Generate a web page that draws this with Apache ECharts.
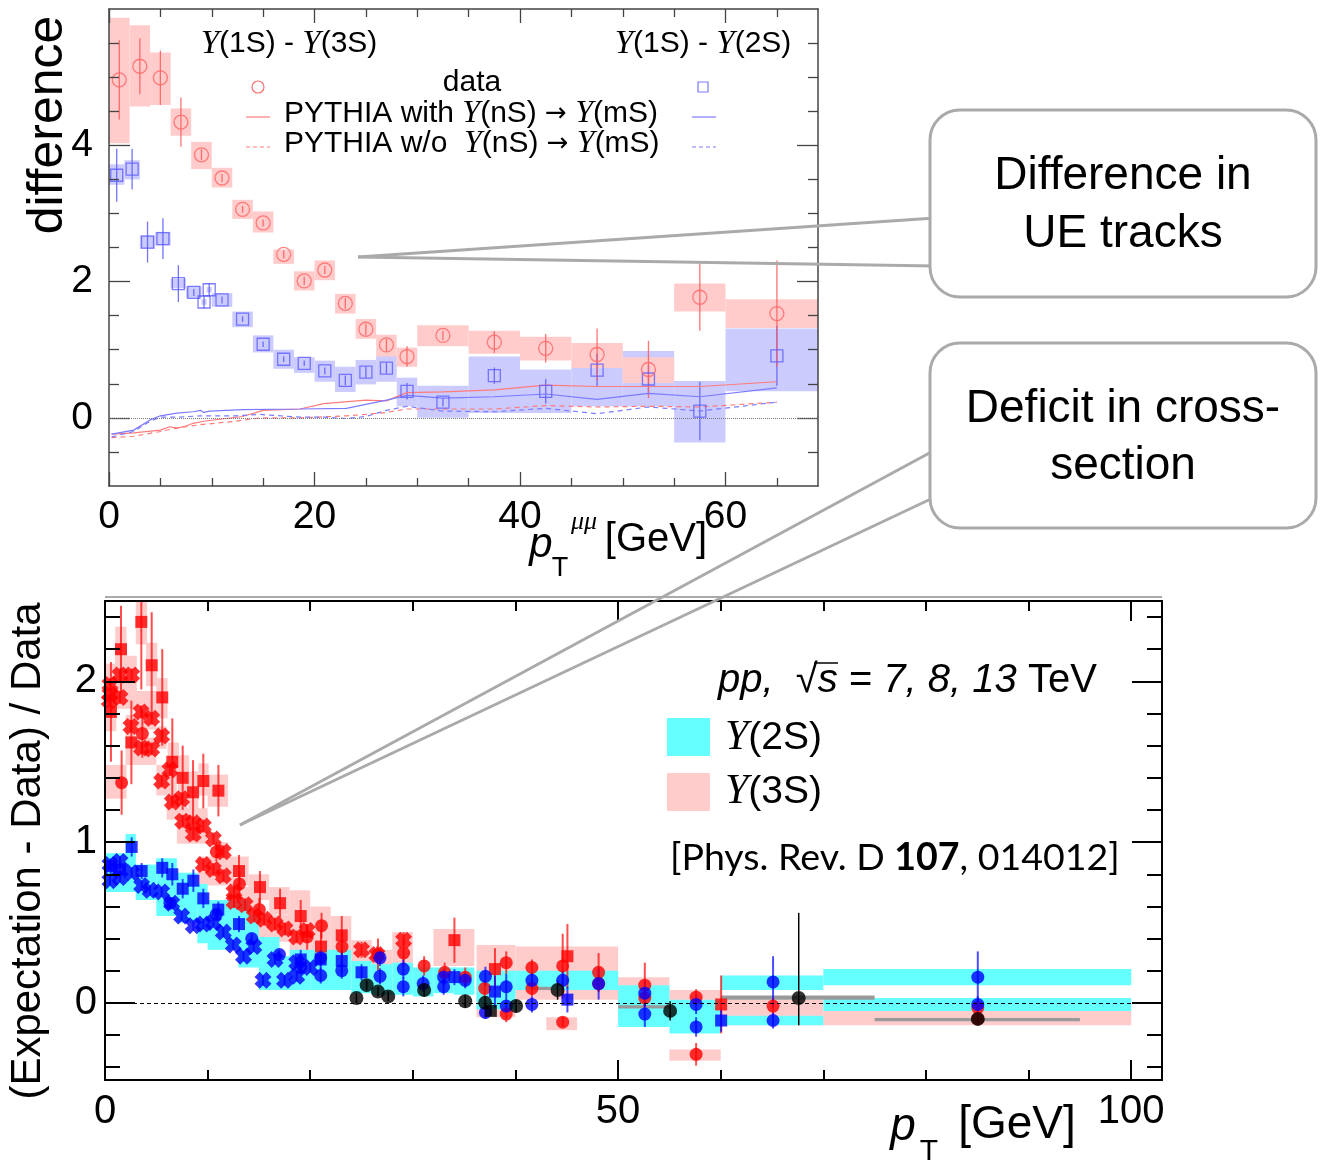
<!DOCTYPE html>
<html><head><meta charset="utf-8">
<script src="https://cdn.jsdelivr.net/npm/echarts@6/dist/echarts.min.js"></script>
<style>html,body{margin:0;padding:0;background:#fff}#c{width:1327px;height:1163px}</style>
</head><body><div id="c"></div><script>
// ---------------- TOP PANEL DATA ----------------
// rows: [pT, difference, stat, binLo, binHi, sysLo, sysHi]
const top3S = [
 [1,4.96,0.58,0,2,4.03,5.87],[3,5.16,0.41,2,4,4.57,5.76],[5,4.99,0.40,4,6,4.59,5.36],
 [7,4.34,0.36,6,8,4.14,4.54],[9,3.86,0.08,8,10,3.65,4.05],[11,3.52,0.06,10,12,3.38,3.67],
 [13,3.06,0.05,12,14,2.92,3.20],[15,2.86,0.05,14,16,2.72,3.03],[17,2.40,0.06,16,18,2.26,2.47],
 [19,2.01,0.06,18,20,1.87,2.15],[21,2.17,0.06,20,22,2.02,2.31],[23,1.68,0.08,22,24,1.53,1.82],
 [25,1.30,0.08,24,26,1.16,1.45],[27,1.07,0.09,26,28,0.90,1.22],[29,0.90,0.15,28,30,0.75,1.03],
 [32.5,1.21,0.07,30,35,1.05,1.36],[37.5,1.11,0.16,35,40,0.94,1.28],[42.5,1.02,0.21,40,45,0.84,1.19],
 [47.5,0.93,0.38,45,50,0.73,1.10],[52.5,0.71,0.42,50,55,0.51,0.89],[57.5,1.77,0.49,55,60,1.56,1.97],
 [65,1.53,0.78,60,70,1.32,1.74]
];
const top2S = [
 [0.75,3.56,0.39,0,1.5,3.42,3.72],[2.25,3.65,0.30,1.5,3,3.50,3.78],[3.75,2.58,0.30,3,4.5,2.48,2.68],
 [5.25,2.63,0.30,4.5,6,2.53,2.73],[6.75,1.97,0.27,6,7.5,1.90,2.04],[8.25,1.84,0.05,7.5,9,1.76,1.93],
 [9.25,1.70,0.09,9,9.5,1.66,1.74],[9.75,1.88,0.10,9.5,10,1.84,1.92],[11,1.73,0.05,10,12,1.63,1.83],
 [13,1.45,0.04,12,14,1.33,1.56],[15,1.08,0.04,14,16,0.96,1.21],[17,0.86,0.04,16,18,0.72,1.00],
 [19,0.80,0.04,18,20,0.66,0.89],[21,0.69,0.05,20,22,0.53,0.84],[23,0.55,0.07,22,24,0.38,0.75],
 [25,0.67,0.08,24,26,0.49,0.85],[27,0.73,0.08,26,28,0.53,0.91],[29,0.39,0.12,28,30,0.17,0.59],
 [32.5,0.23,0.06,30,35,0.00,0.47],[37.5,0.62,0.12,35,40,0.07,0.90],[42.5,0.39,0.18,40,45,0.07,0.71],
 [47.5,0.70,0.24,45,50,0.17,0.75],[52.5,0.57,0.20,50,55,0.17,0.98],[57.5,0.10,0.43,55,60,-0.36,0.54],
 [65,0.91,0.44,60,70,0.39,1.31]
];
const pyWith2S = [[0.25,-0.24],[2.4,-0.18],[4,-0.03],[5,0.03],[6.6,0.07],[8.2,0.09],[8.9,0.11],[9.2,0.08],[9.8,0.10],[13,0.12],[18.6,0.13],[23.1,0.14],[27,0.26],[29,0.33],[32.5,0.29],[37.5,0.31],[42.5,0.35],[47.5,0.27],[52.5,0.36],[57.5,0.31],[65,0.44]];
const pyWith3S = [[0.25,-0.24],[2.4,-0.22],[5,-0.18],[5.9,-0.13],[6.6,-0.15],[7.5,-0.12],[8.2,-0.08],[9.2,-0.05],[13,0.02],[15,0.11],[18.6,0.13],[20.9,0.21],[25,0.26],[27,0.25],[29,0.37],[32.5,0.38],[37.5,0.41],[42.5,0.48],[47.5,0.46],[52.5,0.46],[57.5,0.46],[65,0.53]];
const pyWo2S = [[0.25,-0.28],[2.4,-0.2],[4,-0.05],[5,0.01],[6.6,0.01],[8.9,0.03],[12.3,0.03],[14.7,0.05],[18.6,0.01],[20.9,0.01],[23.1,-0.01],[25,0.02],[27,0.11],[29,0.17],[32.5,0.10],[37.5,0.09],[42.5,0.14],[47.5,0.06],[52.5,0.16],[57.5,0.10],[65,0.23]];
const pyWo3S = [[0.25,-0.29],[2.4,-0.27],[5,-0.2],[6.6,-0.15],[8.9,-0.1],[12.3,-0.05],[14.7,0],[18.6,0],[23.1,0.03],[25,0.05],[27,0.08],[29,0.13],[32.5,0.13],[37.5,0.13],[42.5,0.18],[47.5,0.16],[52.5,0.17],[57.5,0.16],[65,0.23]];
const topXMajor=[0,20,40,60], topXMinor=[5,10,15,25,30,35,45,50,55,65];
const topYMajor=[0,2,4], topYMinor=[-0.5,0.5,1,1.5,2.5,3,3.5,4.5,5,5.5];
const topXLabels=[0,20,40,60], topYLabels=[0,2,4];

// ---------------- BOTTOM PANEL DATA ----------------
// rows [pT, value, stat]
const redSq = [[0.58,1.81,0.31],[1.56,2.20,0.27],[2.57,1.62,0.26],[3.54,2.37,0.42],[4.55,2.10,0.33],[5.58,1.90,0.30],[6.56,1.50,0.27],[7.57,1.40,0.20],[8.58,1.31,0.20],[9.58,1.38,0.17],[11.05,1.32,0.16],[13.06,0.82,0.10],[15.1,0.72,0.10],[17.06,0.62,0.09],[19.07,0.54,0.10],[21.05,0.35,0.10],[23.07,0.42,0.12],[34.05,0.39,0.14],[38.0,0.21,0.13],[45.06,0.29,0.20],[60.04,-0.01,0.18]];
const redCirc = [[1.62,1.37,0.2],[3.64,1.675,0.15],[10.85,0.94,0.06],[13.1,0.74,0.08],[15.04,0.58,0.07],[19.7,0.41,0.08],[21.1,0.48,0.08],[23.1,0.35,0.1],[26.6,0.30,0.1],[29.1,0.31,0.08],[31.1,0.23,0.06],[33.1,0.19,0.06],[35.1,0.16,0.06],[37.0,0.09,0.05],[39.1,0.25,0.07],[39.1,-0.07,0.05],[41.6,0.22,0.05],[41.6,0.09,0.05],[44.6,0.23,0.2],[44.6,-0.12,0.03],[48.1,0.19,0.12],[48.1,0.12,0.05],[52.6,0.11,0.14],[52.6,0.03,0.05],[57.6,0.035,0.05],[57.6,-0.32,0.07],[65.1,-0.02,0.05],[85.05,-0.03,0.03],[85.05,-0.10,0.03]];
const redX = [[0.49,1.98,0.04],[0.49,1.92,0.04],[0.42,1.88,0.04],[1.46,2.04,0.04],[2.6,2.04,0.04],[1.46,1.90,0.04],[3.51,1.81,0.04],[4.55,1.77,0.04],[2.53,1.72,0.04],[3.57,1.585,0.04],[4.55,1.58,0.04],[5.52,1.66,0.04],[5.52,1.38,0.04],[6.33,1.45,0.04],[6.56,1.25,0.04],[7.47,1.27,0.04],[7.57,1.13,0.04],[8.61,1.12,0.04],[8.61,1.05,0.04],[9.58,1.10,0.04],[10.56,1.02,0.04],[9.58,0.86,0.04],[10.56,0.83,0.04],[11.53,0.94,0.04],[11.53,0.79,0.04],[12.57,0.69,0.04],[12.57,0.63,0.04],[13.65,0.61,0.04],[14.55,0.54,0.04],[15.5,0.52,0.04],[16.57,0.49,0.04],[17.54,0.46,0.04],[18.68,0.41,0.04],[19.7,0.45,0.04],[25.0,0.33,0.05],[26.5,0.30,0.05],[29.1,0.39,0.05]];
const blueSq = [[0.56,0.85,0.05],[1.46,0.83,0.05],[2.6,0.97,0.06],[3.57,0.82,0.05],[5.58,0.84,0.06],[6.56,0.80,0.07],[7.57,0.71,0.06],[8.61,0.76,0.07],[9.58,0.65,0.06],[11.04,0.58,0.05],[13.06,0.49,0.05],[19.07,0.27,0.06],[21.02,0.27,0.06],[23.07,0.26,0.07],[25.0,0.19,0.05],[34.05,0.16,0.05],[38.0,0.07,0.1],[45.06,0.02,0.08],[60.04,-0.11,0.07]];
const blueCirc = [[6.33,0.62,0.03],[10.85,0.55,0.03],[14.3,0.40,0.03],[17.0,0.30,0.03],[19.07,0.22,0.04],[21.02,0.17,0.05],[21.02,0.28,0.05],[23.07,0.20,0.05],[26.8,0.165,0.05],[26.8,0.28,0.05],[29.07,0.21,0.06],[29.07,0.10,0.06],[31.0,0.12,0.05],[33.0,0.16,0.05],[33.0,0.10,0.05],[35.1,0.14,0.05],[37.07,0.165,0.06],[37.07,-0.06,0.04],[39.1,0.10,0.08],[39.1,-0.02,0.04],[41.6,0.14,0.05],[41.6,-0.01,0.05],[44.6,0.14,0.06],[48.1,0.12,0.1],[52.6,0.06,0.08],[52.6,-0.07,0.08],[57.6,-0.01,0.06],[57.6,-0.15,0.06],[65.1,0.13,0.16],[65.1,-0.11,0.05],[85.05,0.16,0.16],[85.05,-0.01,0.05]];
const blueX = [[0.49,0.86,0.03],[0.49,0.76,0.03],[1.46,0.88,0.03],[1.46,0.78,0.03],[2.6,0.81,0.03],[3.57,0.73,0.03],[4.39,0.70,0.03],[5.52,0.69,0.03],[6.5,0.62,0.03],[7.47,0.54,0.03],[8.61,0.48,0.03],[9.58,0.49,0.03],[10.56,0.50,0.03],[11.53,0.44,0.03],[12.5,0.36,0.03],[13.5,0.29,0.03],[14.5,0.35,0.03],[15.4,0.14,0.03],[16.57,0.27,0.03],[17.5,0.14,0.03],[18.68,0.165,0.03],[18.68,0.25,0.03],[20.0,0.22,0.03]];
// rows [pT, value, errDown, errUp]
const blackCirc = [[24.5,0.03,0.03,0.03],[25.5,0.11,0.03,0.03],[26.6,0.07,0.03,0.03],[27.6,0.04,0.03,0.03],[31.1,0.08,0.04,0.04],[35.1,0.01,0.04,0.04],[37.04,0.00,0.04,0.04],[40.06,-0.02,0.04,0.04],[44.1,0.08,0.06,0.06],[55.07,-0.05,0.06,0.06],[67.6,0.03,0.17,0.53],[85.05,-0.10,0.03,0.03]];
const blackSq = [[37.6,-0.05,0.03,0.03]];
// systematic boxes [xLo, xHi, yLo, yHi]
const pinkBoxes = [[3.0,4.1,2.23,2.52],[1.0,2.1,2.06,2.34],[4.0,5.1,1.97,2.24],[1.0,3.1,1.83,2.16],[5.0,6.1,1.77,2.02],[0.0,1.1,1.69,2.11],[3.0,5.0,1.7,1.94],[2.0,3.0,1.62,1.79],[2.0,5.0,1.48,1.65],[5.0,6.0,1.58,1.72],[0.0,2.1,1.27,1.48],[6.1,7.2,1.38,1.62],[5.0,7.0,1.29,1.48],[7.1,8.2,1.27,1.54],[8.1,9.1,1.19,1.44],[9.1,10.1,1.29,1.49],[10.0,12.0,1.22,1.42],[6.0,8.0,1.14,1.29],[7.0,10.0,0.99,1.21],[9.0,12.0,0.73,0.91],[11.0,12.0,0.87,1.0],[12.0,14.0,0.73,0.91],[14.0,16.0,0.64,0.8],[16.0,18.0,0.55,0.72],[12.0,15.0,0.5,0.72],[15.0,19.0,0.38,0.55],[18.0,20.0,0.3,0.70],[20.0,22.0,0.28,0.6],[22.0,24.0,0.28,0.54],[24.0,26.0,0.2,0.39],[26.0,28.0,0.2,0.33],[28.0,30.0,0.2,0.44],[32.0,36.0,0.23,0.46],[36.2,40.0,-0.09,0.36],[40.0,50.0,0.02,0.35],[43.0,46.0,-0.17,-0.09],[50.0,55.0,-0.02,0.16],[55.0,60.0,-0.07,0.08],[55.0,60.0,-0.36,-0.29],[60.0,70.0,-0.14,0.02],[70.0,100.0,-0.14,-0.05]];
const cyanBoxes = [[2.0,3.0,0.9,1.05],[0.0,3.0,0.69,0.93],[3.0,5.0,0.64,0.86],[5.0,7.0,0.54,0.9],[7.0,9.0,0.5,0.81],[8.0,10.0,0.6,0.74],[9.0,14.0,0.37,0.64],[10.0,15.0,0.33,0.55],[13.0,17.0,0.22,0.41],[15.0,19.0,0.08,0.29],[18.0,20.0,0.08,0.33],[20.0,24.0,0.08,0.33],[24.0,26.0,0.06,0.26],[26.0,28.0,0.05,0.24],[28.0,30.0,0.05,0.25],[30.0,32.0,0.04,0.22],[32.0,34.0,0.06,0.22],[34.0,36.0,0.05,0.22],[36.2,40.0,-0.04,0.2],[40.0,50.0,0.08,0.2],[50.0,55.0,-0.15,0.11],[55.0,60.0,-0.19,0.02],[60.0,70.0,0.08,0.17],[60.0,70.0,-0.14,-0.08],[70.0,100.0,0.11,0.21],[70.0,100.0,-0.05,0.03]];
const grayBoxes = [[60.0,75.0,0.02,0.045],[75.0,95.0,-0.115,-0.095],[50.0,55.0,-0.035,-0.015],[41.5,43.5,0.08,0.1]];
const botXMajor=[0,50,100], botXMinor=[10,20,30,40,60,70,80,90];
const botYMajor=[0,1,2], botYMinor=[-0.4,-0.2,0.2,0.4,0.6,0.8,1.2,1.4,1.6,1.8,2.2,2.4];
const botXLabels=[0,50,100], botYLabels=[0,1,2];

// ---------------- RENDERING ----------------
const FS = "'Liberation Sans', Arial, Helvetica, sans-serif";
const SERIF = "'Liberation Serif', 'DejaVu Serif', serif";
const CALI = "Lato, 'Open Sans', sans-serif";
const TOP = 0, BOT = 4; // axis indices used by each panel's series

function axis(grid, pos, min, max, ticks, len, labels, o) {
  return {
    type:'value', gridIndex:grid, position:pos, min:min, max:max, z:3,
    axisLine:{show:!!o.line, onZero:false, lineStyle:{color:o.color, width:o.lw}},
    axisTick:{show:true, inside:true, length:len, customValues:ticks, lineStyle:{color:o.color, width:o.tw}},
    axisLabel: labels ? {show:true, customValues:labels, fontSize:o.fs, fontFamily:FS, color:'#000', margin:o.margin} : {show:false},
    splitLine:{show:false}
  };
}
const tO = {color:'#444', lw:1.5, tw:1.3, fs:39};
const bO = {color:'#000', lw:2, tw:2, fs:40};
const xAxes = [
  axis(0,'bottom',0,69,topXMajor,14,topXLabels,Object.assign({line:true,margin:12},tO)),
  axis(0,'bottom',0,69,topXMinor,8,null,tO),
  axis(0,'top',0,69,topXMajor,14,null,Object.assign({line:true},tO)),
  axis(0,'top',0,69,topXMinor,8,null,tO),
  axis(1,'bottom',0,103,botXMajor,20,botXLabels,Object.assign({line:true,margin:12},bO)),
  axis(1,'bottom',0,103,botXMinor,10,null,bO),
  axis(1,'top',0,103,botXMajor,20,null,Object.assign({line:true},bO)),
  axis(1,'top',0,103,botXMinor,10,null,bO)
];
const yAxes = [
  axis(0,'left',-1,6,topYMajor,21,topYLabels,Object.assign({line:true,margin:16},tO)),
  axis(0,'left',-1,6,topYMinor,10,null,tO),
  axis(0,'right',-1,6,topYMajor,21,null,Object.assign({line:true},tO)),
  axis(0,'right',-1,6,topYMinor,10,null,tO),
  axis(1,'left',-0.48,2.5,botYMajor,30,botYLabels,Object.assign({line:true,margin:8},bO)),
  axis(1,'left',-0.48,2.5,botYMinor,15,null,bO),
  axis(1,'right',-0.48,2.5,botYMajor,30,null,Object.assign({line:true},bO)),
  axis(1,'right',-0.48,2.5,botYMinor,15,null,bO)
];

function boxSeries(rows, color, ai, z) {
  return {
    type:'custom', xAxisIndex:ai, yAxisIndex:ai, z:z, silent:true, data:rows,
    encode:{x:[0,1], y:[2,3]},
    renderItem:function(params, api){
      const p0 = api.coord([api.value(0), api.value(3)]);
      const p1 = api.coord([api.value(1), api.value(2)]);
      const cs = params.coordSys;
      const r = echarts.graphic.clipRectByRect(
        {x:p0[0], y:p0[1], width:p1[0]-p0[0], height:p1[1]-p0[1]},
        {x:cs.x, y:cs.y, width:cs.width, height:cs.height});
      return r ? {type:'rect', shape:r, style:{fill:color}} : null;
    }
  };
}
function errSeries(rows, color, width, ai, z) {
  return {
    type:'custom', xAxisIndex:ai, yAxisIndex:ai, z:z, silent:true, data:rows,
    encode:{x:0, y:1},
    renderItem:function(params, api){
      const x = api.value(0), y = api.value(1), lo = api.value(2), hi = api.value(3);
      const a = api.coord([x, y - lo]), b = api.coord([x, y + hi]);
      const cs = params.coordSys;
      const t = Math.max(Math.min(a[1], b[1]), cs.y), bt = Math.min(Math.max(a[1], b[1]), cs.y + cs.height);
      if (bt <= t) return null;
      return {type:'line', shape:{x1:a[0], y1:t, x2:a[0], y2:bt}, style:{stroke:color, lineWidth:width}};
    }
  };
}
function sym(rows, symbol, size, style, ai, z) {
  return {type:'scatter', xAxisIndex:ai, yAxisIndex:ai, z:z, silent:true, symbol:symbol, symbolSize:size,
    data:rows.map(r => [r[0], r[1]]), itemStyle:style};
}
function pyLine(rows, color, dashed, extra) {
  return Object.assign({type:'line', xAxisIndex:TOP, yAxisIndex:TOP, z:2, silent:true, showSymbol:false, symbol:'none',
    data:rows, lineStyle:{color:color, width:1.2, type: dashed ? [5,4] : 'solid'}}, extra || {});
}
const sym2 = rows => rows.map(r => [r[0], r[1], r[2], r[2]]);
const XPATH = 'path://M0,3 L3,0 L5,2 L7,0 L10,3 L8,5 L10,7 L7,10 L5,8 L3,10 L0,7 L2,5 Z';

const series = [
  boxSeries(top2S.map(r => [r[3], r[4], r[5], r[6]]), '#cbcbfd', TOP, 1),
  boxSeries(top3S.map(r => [r[3], r[4], r[5], r[6]]), '#ffcbcb', TOP, 1),
  pyLine(pyWith3S, '#ff7b7b', false, {markLine:{silent:true, symbol:'none', label:{show:false},
     lineStyle:{type:'dotted', color:'#777', width:1}, data:[{yAxis:0}]}}),
  pyLine(pyWith2S, '#7b7bff', false),
  pyLine(pyWo3S, '#ff7b7b', true),
  pyLine(pyWo2S, '#7b7bff', true),
  errSeries(sym2(top2S), 'rgba(90,90,255,0.85)', 1.3, TOP, 2),
  errSeries(sym2(top3S), 'rgba(255,90,90,0.85)', 1.3, TOP, 2),
  sym(top2S, 'rect', 12, {color:'rgba(0,0,0,0)', borderColor:'#5c5cff', borderWidth:1.3}, TOP, 2),
  sym(top3S, 'circle', 14, {color:'rgba(0,0,0,0)', borderColor:'#ff6464', borderWidth:1.3}, TOP, 2),

  boxSeries(pinkBoxes, '#ffcccc', BOT, 1),
  boxSeries(cyanBoxes, '#66ffff', BOT, 1),
  boxSeries(grayBoxes, '#999999', BOT, 1),
  {type:'line', xAxisIndex:BOT, yAxisIndex:BOT, data:[], silent:true, z:2,
    markLine:{silent:true, symbol:'none', label:{show:false}, lineStyle:{type:[4,3], color:'#000', width:1},
      data:[[{coord:[0,0]},{coord:[100,0]}]]}},
  errSeries(sym2(redSq).concat(sym2(redCirc), sym2(redX)), 'rgba(255,0,0,0.7)', 2, BOT, 2),
  sym(redX, XPATH, 17, {color:'#ff0000'}, BOT, 2),
  sym(redSq, 'rect', 12, {color:'#ff0000'}, BOT, 2),
  sym(redCirc, 'circle', 13, {color:'#ff0000'}, BOT, 2),
  errSeries(sym2(blueSq).concat(sym2(blueCirc), sym2(blueX)), 'rgba(0,0,255,0.7)', 2, BOT, 2),
  sym(blueX, XPATH, 17, {color:'#0000ff'}, BOT, 2),
  sym(blueSq, 'rect', 12, {color:'#0000ff'}, BOT, 2),
  sym(blueCirc, 'circle', 13, {color:'#0000ff'}, BOT, 2),
  errSeries(blackCirc.concat(blackSq), '#000', 1.5, BOT, 2),
  sym(blackCirc, 'circle', 14, {color:'#000'}, BOT, 2),
  sym(blackSq, 'rect', 12, {color:'#000'}, BOT, 2)
];

function txt(x, y, text, o) {
  return {type:'text', x:x, y:y, z:20, silent:true,
    style:Object.assign({text:text, fill:'#000', fontFamily:FS, textAlign:'center', textVerticalAlign:'middle'}, o)};
}
const richU = (us, ns) => ({u:{fontFamily:SERIF, fontStyle:'italic', fontSize:us, fill:'#000'},
  n:{fontFamily:FS, fontSize:ns, fill:'#000'}, a:{fontFamily:"'DejaVu Sans', sans-serif", fontSize:ns-4, fill:'#000'}});

const graphic = [
  // top panel annotations
  txt(289, 44, '{u|Υ}{n|(1S) - }{u|Υ}{n|(3S)}', {rich:richU(33,30)}),
  txt(703, 44, '{u|Υ}{n|(1S) - }{u|Υ}{n|(2S)}', {rich:richU(33,30)}),
  txt(472, 83, 'data', {fontSize:30}),
  txt(284, 114, '{n|PYTHIA with }{u|Υ}{n|(nS)}{a| → }{u|Υ}{n|(mS)}', {rich:richU(32,30), textAlign:'left'}),
  txt(284, 144, '{n|PYTHIA w/o  }{u|Υ}{n|(nS)}{a| → }{u|Υ}{n|(mS)}', {rich:richU(32,30), textAlign:'left'}),
  {type:'circle', z:20, silent:true, shape:{cx:258, cy:87, r:6}, style:{fill:'none', stroke:'#ff7070', lineWidth:1.2}},
  {type:'rect', z:20, silent:true, shape:{x:698, y:82, width:10, height:10}, style:{fill:'none', stroke:'#7b7bff', lineWidth:1.2}},
  {type:'line', z:20, silent:true, shape:{x1:246, y1:117, x2:270, y2:117}, style:{stroke:'#ff7b7b', lineWidth:1.2}},
  {type:'line', z:20, silent:true, shape:{x1:692, y1:117, x2:716, y2:117}, style:{stroke:'#7b7bff', lineWidth:1.2}},
  {type:'line', z:20, silent:true, shape:{x1:246, y1:147, x2:270, y2:147}, style:{stroke:'#ff7b7b', lineWidth:1.2, lineDash:[4,3]}},
  {type:'line', z:20, silent:true, shape:{x1:692, y1:147, x2:716, y2:147}, style:{stroke:'#7b7bff', lineWidth:1.2, lineDash:[4,3]}},
  {type:'text', x:48, y:125, rotation:Math.PI/2, z:20, silent:true,
    style:{text:'difference', fontSize:50, fontFamily:FS, fill:'#000', textAlign:'center', textVerticalAlign:'middle'}},
  txt(541, 545, 'p', {fontSize:42, fontStyle:'italic'}),
  txt(560, 569, 'T', {fontSize:27}),
  txt(584, 522, 'μμ', {fontSize:26, fontStyle:'italic', fontFamily:SERIF}),
  txt(656, 540, '[GeV]', {fontSize:40}),
  // bottom panel annotations
  {type:'line', z:20, silent:true, shape:{x1:105, y1:597, x2:1162, y2:597}, style:{stroke:'#aaa', lineWidth:2}},
  {type:'text', x:28, y:851, rotation:Math.PI/2, z:20, silent:true,
    style:{text:'(Expectation - Data) / Data', fontSize:42, fontFamily:FS, fill:'#000', textAlign:'center', textVerticalAlign:'middle'}},
  txt(903, 1127, 'p', {fontSize:46, fontStyle:'italic'}),
  txt(929, 1152, 'T', {fontSize:30}),
  txt(1017, 1125, '[GeV]', {fontSize:46}),
  txt(718, 681, '{i|pp,  }{n|√}{i|s}{n| = }{i|7, 8, 13}{n| TeV}', {textAlign:'left',
    rich:{i:{fontFamily:FS, fontStyle:'italic', fontSize:40, fill:'#000'}, n:{fontFamily:FS, fontSize:40, fill:'#000'}}}),
  {type:'line', z:20, silent:true, shape:{x1:814, y1:663, x2:838, y2:663}, style:{stroke:'#000', lineWidth:1.5}},
  {type:'rect', z:20, silent:true, shape:{x:667, y:718, width:43, height:38}, style:{fill:'#66ffff'}},
  {type:'rect', z:20, silent:true, shape:{x:667, y:773, width:43, height:38}, style:{fill:'#ffcccc'}},
  txt(725, 738, '{u|Υ}{n|(2S)}', {textAlign:'left', rich:richU(42,39)}),
  txt(725, 792, '{u|Υ}{n|(3S)}', {textAlign:'left', rich:richU(42,39)}),
  txt(670, 858, '{n|[Phys. Rev. D }{b|107}{n|, 014012]}', {textAlign:'left',
    rich:{n:{fontFamily:CALI, fontSize:37.5, fill:'#000'}, b:{fontFamily:CALI, fontSize:37.5, fontWeight:'bold', fill:'#000'}}}),
  // callouts
  {type:'line', z:30, silent:true, shape:{x1:358, y1:257, x2:935, y2:218}, style:{stroke:'#aaa', lineWidth:3}},
  {type:'line', z:30, silent:true, shape:{x1:358, y1:257, x2:935, y2:266}, style:{stroke:'#aaa', lineWidth:3}},
  {type:'line', z:30, silent:true, shape:{x1:240, y1:825, x2:935, y2:450}, style:{stroke:'#aaa', lineWidth:3}},
  {type:'line', z:30, silent:true, shape:{x1:240, y1:825, x2:935, y2:497}, style:{stroke:'#aaa', lineWidth:3}},
  {type:'rect', z:31, silent:true, shape:{x:930, y:110, width:386, height:187, r:30}, style:{fill:'#fff', stroke:'#aaa', lineWidth:3}},
  {type:'rect', z:31, silent:true, shape:{x:930, y:343, width:386, height:185, r:30}, style:{fill:'#fff', stroke:'#aaa', lineWidth:3}},
  {type:'text', x:1123, y:176, z:32, silent:true, style:{text:'Difference in', fontSize:46, fontFamily:FS, fill:'#000', textAlign:'center', textVerticalAlign:'middle'}},
  {type:'text', x:1123, y:234, z:32, silent:true, style:{text:'UE tracks', fontSize:46, fontFamily:FS, fill:'#000', textAlign:'center', textVerticalAlign:'middle'}},
  {type:'text', x:1123, y:409, z:32, silent:true, style:{text:'Deficit in cross-', fontSize:46, fontFamily:FS, fill:'#000', textAlign:'center', textVerticalAlign:'middle'}},
  {type:'text', x:1123, y:466, z:32, silent:true, style:{text:'section', fontSize:46, fontFamily:FS, fill:'#000', textAlign:'center', textVerticalAlign:'middle'}}
];

const chart = echarts.init(document.getElementById('c'), null, {renderer:'canvas', width:1327, height:1163});
chart.setOption({
  animation:false,
  backgroundColor:'#fff',
  grid:[
    {left:109, top:9, width:709, height:477, show:false},
    {left:105, top:601, width:1057, height:479, show:false}
  ],
  xAxis:xAxes, yAxis:yAxes, series:series, graphic:graphic
});
</script></body></html>
